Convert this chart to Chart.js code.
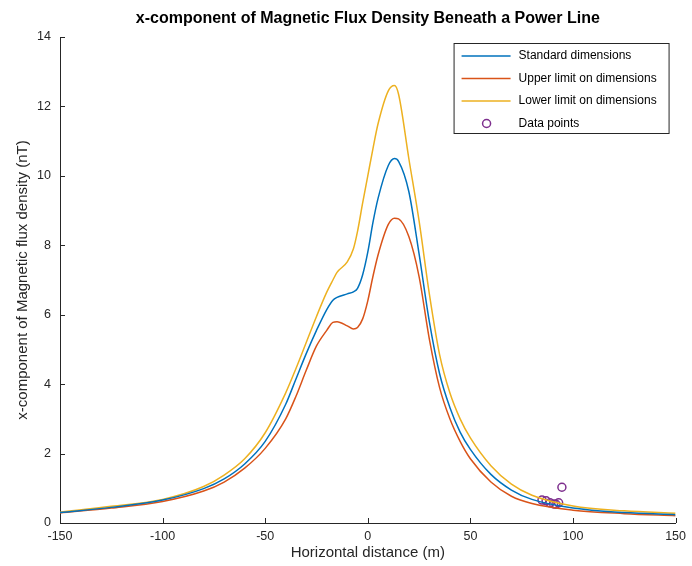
<!DOCTYPE html>
<html>
<head>
<meta charset="utf-8">
<script src="https://cdn.jsdelivr.net/npm/chart.js@4.4.0/dist/chart.umd.min.js"></script>
<style>
  html, body { margin: 0; padding: 0; background: #fff; }
  #wrap { width: 692px; height: 566px; }
</style>
</head>
<body>
<div id="wrap"><canvas id="fluxChart" width="692" height="566"></canvas></div>
<script>
// horizontal distance (m) sampled along the curves
const distance = [-150, -125, -100, -80, -70, -60, -50, -40, -35, -30, -25, -20, -17, -15, -10, -7, -5, -2.5,
  0, 2.5, 5, 10, 13, 15, 20, 25, 30, 35, 40, 45, 50, 60, 70, 80, 100, 125, 150];

const standardDims = [0.30, 0.45, 0.66, 0.99, 1.27, 1.70, 2.35, 3.42, 4.15, 4.88, 5.55, 6.15, 6.42, 6.50, 6.60, 6.66, 6.76, 7.15,
  7.80, 8.65, 9.35, 10.30, 10.50, 10.42, 9.55, 7.75, 5.80, 4.30, 3.33, 2.62, 2.12, 1.40, 0.95, 0.68, 0.43, 0.30, 0.24];

const upperLimit = [0.29, 0.43, 0.62, 0.92, 1.18, 1.58, 2.15, 3.00, 3.65, 4.40, 5.10, 5.55, 5.78, 5.80, 5.68, 5.59, 5.63, 5.88,
  6.40, 7.10, 7.72, 8.60, 8.78, 8.76, 8.25, 7.10, 5.30, 3.90, 3.00, 2.35, 1.85, 1.18, 0.77, 0.56, 0.37, 0.27, 0.21];

const lowerLimit = [0.31, 0.48, 0.68, 1.05, 1.38, 1.85, 2.60, 3.75, 4.45, 5.20, 5.95, 6.65, 7.00, 7.22, 7.52, 7.90, 8.40, 9.22,
  10.00, 10.78, 11.50, 12.45, 12.60, 12.35, 10.50, 8.70, 6.60, 4.85, 3.75, 3.00, 2.45, 1.65, 1.12, 0.80, 0.49, 0.35, 0.28];

// measured points
const measuredX = [84.9, 86.9, 88.8, 90.6, 91.7, 93.0, 94.6];
const measuredY = [0.66, 0.64, 0.58, 0.55, 0.54, 0.58, 1.03];

const xTicks = [-150, -100, -50, 0, 50, 100, 150];
const yTicks = [0, 2, 4, 6, 8, 10, 12, 14];

const seriesLabels = ['Standard dimensions', 'Upper limit on dimensions', 'Lower limit on dimensions', 'Data points'];
const seriesColors = ['#0072BD', '#D95319', '#EDB120', '#7E2F8E'];

const FONT = '"Liberation Sans", Arial, Helvetica, sans-serif';
const AXIS = '#262626';

function toPoints(xs, ys) {
  return xs.map((x, i) => ({ x: x, y: ys[i] }));
}

function curve(i, ys) {
  return {
    label: seriesLabels[i],
    data: toPoints(distance, ys),
    borderColor: seriesColors[i],
    borderWidth: 1.5,
    pointRadius: 0,
    cubicInterpolationMode: 'monotone',
    fill: false
  };
}

// inward tick marks, like the original plot
const innerTicks = {
  id: 'innerTicks',
  afterDraw(chart) {
    const c = chart.ctx;
    const xs = chart.scales.x, ys = chart.scales.y;
    const a = chart.chartArea;
    c.save();
    c.strokeStyle = AXIS;
    c.lineWidth = 1;
    c.beginPath();
    xs.ticks.forEach(t => {
      const px = Math.round(xs.getPixelForValue(t.value)) + 0.5;
      c.moveTo(px, a.bottom);
      c.lineTo(px, a.bottom - 5);
    });
    ys.ticks.forEach(t => {
      const py = Math.round(ys.getPixelForValue(t.value)) + 0.5;
      c.moveTo(a.left, py);
      c.lineTo(a.left + 5, py);
    });
    c.stroke();
    c.restore();
  }
};

// boxed legend in the top right corner
const boxLegend = {
  id: 'boxLegend',
  afterDraw(chart) {
    const c = chart.ctx;
    const a = chart.chartArea;
    const w = 215, h = 90;
    const bx = a.right - 7 - w, by = a.top + 6;
    c.save();
    c.fillStyle = '#fff';
    c.fillRect(bx, by, w, h);
    c.strokeStyle = AXIS;
    c.lineWidth = 1;
    c.strokeRect(bx + 0.5, by + 0.5, w, h);
    c.font = '12px ' + FONT;
    c.textBaseline = 'middle';
    chart.data.datasets.forEach((ds, i) => {
      const y = by + 13 + i * 22.5;
      c.strokeStyle = ds.borderColor;
      c.lineWidth = 1.5;
      c.beginPath();
      if (ds.showLine === false) {
        c.arc(bx + 33, y, 4, 0, Math.PI * 2);
      } else {
        c.moveTo(bx + 8, y);
        c.lineTo(bx + 57, y);
      }
      c.stroke();
      c.fillStyle = '#000';
      c.fillText(ds.label, bx + 65, y);
    });
    c.restore();
  }
};

const ctx = document.getElementById('fluxChart');

new Chart(ctx, {
  type: 'line',
  data: {
    datasets: [
      curve(0, standardDims),
      curve(1, upperLimit),
      curve(2, lowerLimit),
      {
        label: seriesLabels[3],
        data: toPoints(measuredX, measuredY),
        showLine: false,
        borderColor: seriesColors[3],
        pointBorderColor: seriesColors[3],
        pointBackgroundColor: 'rgba(0,0,0,0)',
        pointRadius: 4,
        pointBorderWidth: 1.5
      }
    ]
  },
  options: {
    responsive: false,
    animation: false,
    layout: { padding: { right: 15 } },
    plugins: {
      legend: { display: false },
      tooltip: { enabled: false },
      title: {
        display: true,
        fullSize: false,
        text: 'x-component of Magnetic Flux Density Beneath a Power Line',
        color: '#000',
        font: { family: FONT, size: 16, weight: 'bold' },
        padding: { top: 9, bottom: 8.8 }
      }
    },
    scales: {
      x: {
        type: 'linear',
        min: -150,
        max: 150,
        afterBuildTicks: s => { s.ticks = xTicks.map(v => ({ value: v })); },
        afterFit: s => { s.height = 43; },
        grid: { drawOnChartArea: false, drawTicks: false },
        border: { color: AXIS, width: 1 },
        ticks: { color: AXIS, padding: 6, maxRotation: 0, font: { family: FONT, size: 12.5 } },
        title: {
          display: true,
          text: 'Horizontal distance (m)',
          color: AXIS,
          font: { family: FONT, size: 15 },
          padding: { top: 0, bottom: 4 }
        }
      },
      y: {
        type: 'linear',
        min: 0,
        max: 14,
        afterBuildTicks: s => { s.ticks = yTicks.map(v => ({ value: v })); },
        afterFit: s => { s.width = 60; },
        grid: { drawOnChartArea: false, drawTicks: false },
        border: { color: AXIS, width: 1 },
        ticks: { color: AXIS, padding: 9, font: { family: FONT, size: 12.5 } },
        title: {
          display: true,
          text: 'x-component of Magnetic flux density (nT)',
          color: AXIS,
          font: { family: FONT, size: 15 },
          padding: { top: 14, bottom: 0 }
        }
      }
    }
  },
  plugins: [innerTicks, boxLegend]
});
</script>
</body>
</html>
